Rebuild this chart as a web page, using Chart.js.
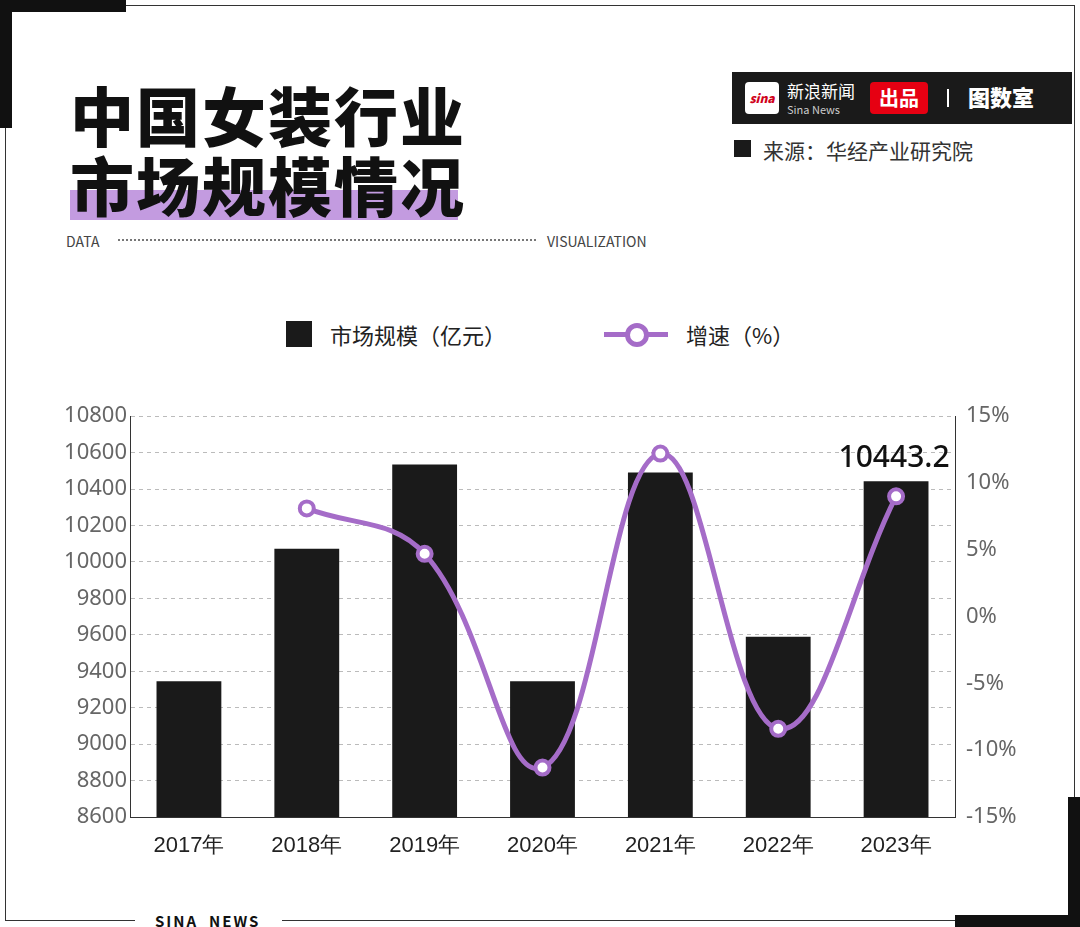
<!DOCTYPE html>
<html lang="zh">
<head>
<meta charset="UTF-8">
<script src="https://cdn.jsdelivr.net/npm/chart.js"></script>
<style>
  body { margin:0; width:1080px; height:927px; background:#fff; font-family:"Noto Sans CJK SC","Noto Sans",sans-serif; position:relative; overflow:hidden; }
  .abs { position:absolute; }
  .title { left:70px; top:78px; font-size:64px; font-weight:900; line-height:70px; color:#111; letter-spacing:2px; }
  .hl { position:absolute; left:70px; top:190px; width:388px; height:30px; background:#c39be0; }
  .legend { top:318px; font-size:22px; color:#222; display:flex; align-items:center; }
</style>
</head>
<body>
<!-- frame corners -->
<div class="abs" style="left:0;top:0;width:126px;height:12px;background:#111"></div>
<div class="abs" style="left:0;top:0;width:12px;height:128px;background:#111"></div>
<div class="abs" style="left:126px;top:5px;width:948px;height:1px;background:#333"></div>
<div class="abs" style="left:1074px;top:5px;width:1px;height:792px;background:#333"></div>
<div class="abs" style="left:5px;top:128px;width:1px;height:792px;background:#333"></div>
<div class="abs" style="left:955px;top:915px;width:125px;height:12px;background:#111"></div>
<div class="abs" style="left:1068px;top:797px;width:12px;height:130px;background:#111"></div>
<div class="abs" style="left:5px;top:920px;width:130px;height:1px;background:#333"></div>
<div class="abs" style="left:282px;top:920px;width:673px;height:1px;background:#333"></div>
<div class="abs" style="left:155px;top:910px;font-size:15px;font-weight:700;letter-spacing:2px;color:#111">SINA&nbsp; NEWS</div>

<div class="hl"></div>
<div class="abs title">中国女装行业<br>市场规模情况</div>
<div class="abs" style="left:66px;top:231px;font-size:14px;color:#444">DATA</div>
<div class="abs" style="left:118px;top:239px;width:418px;border-top:2px dotted #777"></div>
<div class="abs" style="left:547px;top:231px;font-size:14px;color:#444">VISUALIZATION</div>

<!-- brand bar -->
<div class="abs" style="left:732px;top:72px;width:340px;height:52px;background:#1a1a1a"></div>
<div class="abs" style="left:745px;top:82px;width:34px;height:32px;background:#fff;border-radius:4px;color:#d0021b;font-size:12px;font-weight:900;font-style:italic;text-align:center;line-height:32px">sina</div>
<div class="abs" style="left:787px;top:78px;color:#fff;font-size:17px">新浪新闻</div>
<div class="abs" style="left:787px;top:101px;color:#ccc;font-size:11px">Sina News</div>
<div class="abs" style="left:870px;top:82px;width:58px;height:32px;background:#e60012;border-radius:4px;color:#fff;font-size:20px;font-weight:700;text-align:center;line-height:32px">出品</div>
<div class="abs" style="left:947px;top:89px;width:2px;height:18px;background:#fff"></div>
<div class="abs" style="left:968px;top:80px;color:#fff;font-size:22px;font-weight:900">图数室</div>
<div class="abs" style="left:734px;top:140px;width:17px;height:17px;background:#1a1a1a"></div>
<div class="abs" style="left:763px;top:135px;font-size:21px;color:#333">来源：华经产业研究院</div>

<!-- legend -->
<div class="abs legend" style="left:286px"><span style="display:inline-block;width:26px;height:26px;background:#1a1a1a;margin-right:18px"></span>市场规模（亿元）</div>
<div class="abs legend" style="left:604px">
  <span style="position:relative;display:inline-block;width:64px;height:26px;margin-right:18px">
    <span style="position:absolute;left:0;top:11px;width:64px;height:5px;background:#a56cc8"></span>
    <span style="position:absolute;left:21px;top:2px;width:14px;height:14px;border:5px solid #a56cc8;border-radius:50%;background:#fff"></span>
  </span>增速（%）</div>

<div class="abs" style="left:30px;top:400px;width:1005px;height:468px"><canvas id="c"></canvas></div>

<script>
const years = ['2017年','2018年','2019年','2020年','2021年','2022年','2023年'];
const marketSize = [9345, 10073, 10535, 9345, 10491, 9589, 10443.2];
const growth = [null, 8.1, 4.7, -11.3, 12.2, -8.4, 9.0];

const topLabel = {
  id: 'topLabel',
  afterDatasetsDraw(chart) {
    const bar = chart.getDatasetMeta(1).data[6];
    const ctx = chart.ctx;
    ctx.save();
    ctx.font = '500 30px "Noto Sans", sans-serif';
    ctx.fillStyle = '#111';
    ctx.textAlign = 'center';
    ctx.textBaseline = 'bottom';
    ctx.fillText(String(marketSize[6]), bar.x - 2, bar.y - 8);
    ctx.restore();
  }
};

const tickFont = { size: 22, family: '"Noto Sans", sans-serif' };

new Chart(document.getElementById('c'), {
  data: {
    labels: years,
    datasets: [
      { type: 'line', label: '增速（%）', data: growth, yAxisID: 'y1',
        borderColor: '#a56cc8', borderWidth: 5, tension: 0.4,
        pointRadius: 7, pointBorderWidth: 4, pointBackgroundColor: '#fff', pointBorderColor: '#a56cc8' },
      { type: 'bar', label: '市场规模（亿元）', data: marketSize, yAxisID: 'y',
        backgroundColor: '#1a1a1a', barPercentage: 0.55, categoryPercentage: 1 }
    ]
  },
  options: {
    responsive: true, maintainAspectRatio: false, animation: false,
    layout: { padding: { top: 12 } },
    plugins: { legend: { display: false }, tooltip: { enabled: false } },
    scales: {
      x: { grid: { display: false }, border: { color: '#333' },
           afterFit: s => { s.height = 51; },
           ticks: { color: '#222', padding: 8, font: { size: 22 } } },
      y: { position: 'left', min: 8600, max: 10800,
           afterFit: s => { s.width = 100; },
           ticks: { stepSize: 200, color: '#666', font: tickFont, callback: v => String(v) },
           grid: { color: '#bbb', drawTicks: false }, border: { dash: [4, 4], color: '#333' } },
      y1: { position: 'right', min: -15, max: 15,
            afterFit: s => { s.width = 80; },
            ticks: { stepSize: 5, color: '#666', font: tickFont, callback: v => v + '%' },
            grid: { display: false }, border: { color: '#333' } }
    }
  },
  plugins: [topLabel]
});
</script>
</body>
</html>
